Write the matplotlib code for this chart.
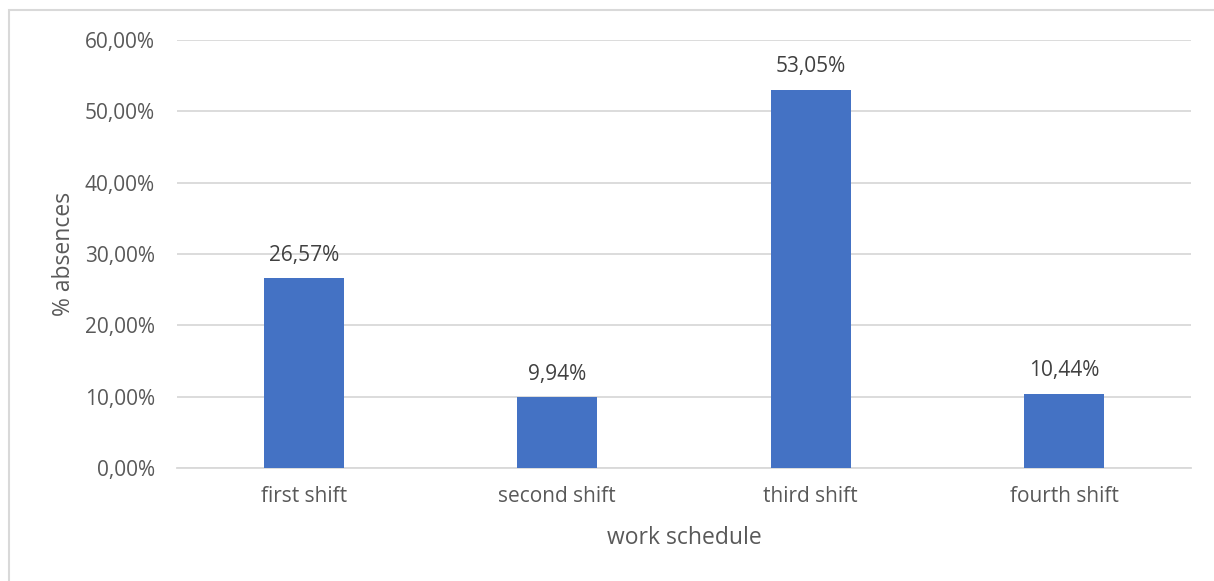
import matplotlib.pyplot as plt
from matplotlib.patches import Rectangle
from matplotlib.ticker import FuncFormatter, MultipleLocator

categories = ["first shift", "second shift", "third shift", "fourth shift"]
absences = [26.57, 9.94, 53.05, 10.44]

plt.rcParams['font.family'] = ['Open Sans', 'DejaVu Sans']
text_color = "#595959"
bar_color = "#4472C4"
grid_color = "#D9D9D9"

W, H = 1214, 581
fig = plt.figure(figsize=(W / 100, H / 100), dpi=100)

# axes in pixel terms: x 177..1191, y 40..468
ax = fig.add_axes([177 / W, 1 - 468 / H, (1191 - 177) / W, (468 - 40) / H])

x = range(len(categories))
bars = ax.bar(x, absences, width=0.315, color=bar_color, zorder=3)

for b, v in zip(bars, absences):
    ax.annotate(f"{v:.2f}%".replace(".", ","),
                (b.get_x() + b.get_width() / 2, v),
                xytext=(0, 9), textcoords="offset points",
                ha="center", va="bottom", fontsize=15, color="#404040")

ax.set_xlim(-0.5, len(categories) - 0.5)
ax.set_ylim(0, 60)
ax.yaxis.set_major_locator(MultipleLocator(10))
ax.yaxis.set_major_formatter(FuncFormatter(lambda v, p: f"{v:.2f}%".replace(".", ",")))
ax.set_xticks(list(x))
ax.set_xticklabels(categories)

ax.grid(axis="y", color=grid_color, linewidth=1.3, zorder=0)
for s in ["top", "right", "left"]:
    ax.spines[s].set_visible(False)
ax.spines["bottom"].set_color(grid_color)
ax.spines["bottom"].set_linewidth(1.3)
ax.tick_params(axis="both", length=0, labelsize=15, labelcolor=text_color)
ax.tick_params(axis="y", pad=16)
ax.tick_params(axis="x", pad=13)

ax.set_xlabel("work schedule", fontsize=16.5, color=text_color, labelpad=14)
ax.set_ylabel("% absences", fontsize=16.5, color=text_color, labelpad=6)

# chart frame, only its top and left edges fall inside the image
fig.patches.append(Rectangle((9 / W, -0.1), 1.2, 1 - 10 / H + 0.1,
                             transform=fig.transFigure, fill=False,
                             edgecolor="#D9D9D9", linewidth=1.5))

fig.savefig("out.png", dpi=100, facecolor="white")
